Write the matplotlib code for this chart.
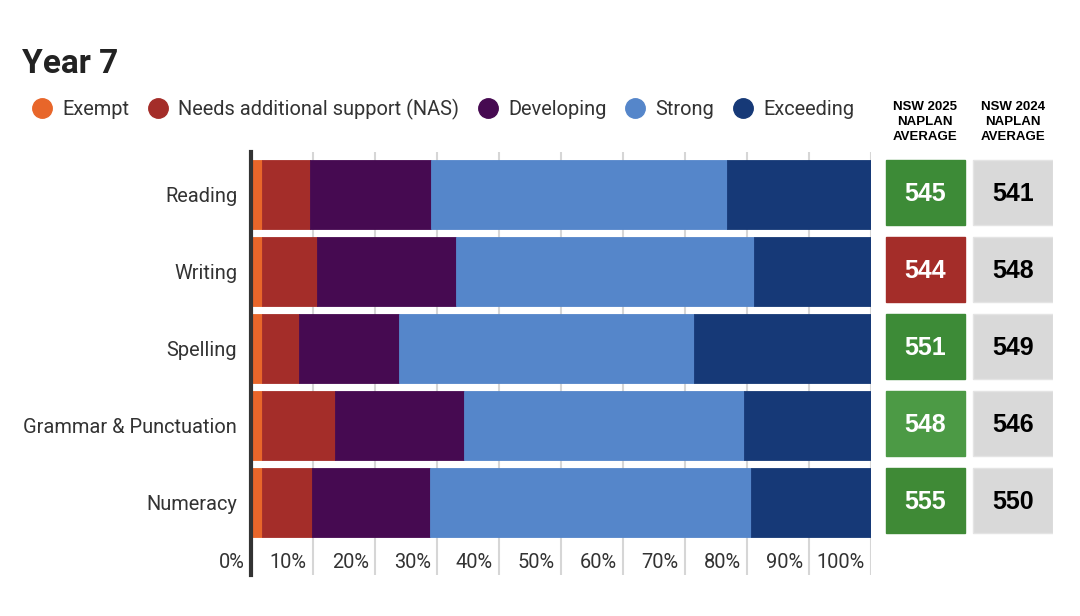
import matplotlib
matplotlib.use("Agg")
import matplotlib.pyplot as plt
from matplotlib.lines import Line2D

# ---------------- data ----------------
categories = ["Reading", "Writing", "Spelling", "Grammar & Punctuation", "Numeracy"]
series_names = ["Exempt", "Needs additional support (NAS)", "Developing", "Strong", "Exceeding"]
exempt = [1.7, 1.7, 1.7, 1.7, 1.7]
nas = [7.8, 9.0, 6.1, 11.8, 8.1]
developing = [19.5, 22.4, 16.0, 20.9, 19.0]
strong = [47.8, 48.1, 47.7, 45.1, 51.8]
exceeding = [23.2, 18.8, 28.5, 20.5, 19.4]
nsw_2025 = [545, 544, 551, 548, 555]
nsw_2024 = [541, 548, 549, 546, 550]
x_ticks = [0, 10, 20, 30, 40, 50, 60, 70, 80, 90, 100]
x_tick_labels = ["0%", "10%", "20%", "30%", "40%", "50%", "60%", "70%", "80%", "90%", "100%"]
header_2025 = "NSW 2025\nNAPLAN\nAVERAGE"
header_2024 = "NSW 2024\nNAPLAN\nAVERAGE"
title = "Year 7"

# ---------------- style ----------------
series_colors = ["#E8662A", "#A42D29", "#460A51", "#5586CA", "#163977"]
box_2025_colors = ["#3D8B37", "#A42D29", "#3D8B37", "#4C9A45", "#3F8A36"]
box_2024_color = "#D9D9D9"
W, H = 1080, 616
fig = plt.figure(figsize=(W / 100, H / 100), dpi=100)
fig.patch.set_facecolor("white")

def fx(px):
    return px / W

def fy(py):
    return 1 - py / H

ax_top, ax_bot = 152, 575
ax = fig.add_axes([fx(251), fy(ax_bot), fx(871) - fx(251), fy(ax_top) - fy(ax_bot)])
ylo, yhi = 4.94, -0.555
ax.set_xlim(0, 100)
ax.set_ylim(ylo, yhi)

series = [exempt, nas, developing, strong, exceeding]
ypos = list(range(len(categories)))
left = [0.0] * len(categories)
for vals, col, name in zip(series, series_colors, series_names):
    ax.barh(ypos, vals, left=left, height=0.9, color=col, edgecolor=col,
            linewidth=0.6, label=name, zorder=3)
    left = [l + v for l, v in zip(left, vals)]

ax.set_yticks(ypos)
ax.set_yticklabels(categories, fontsize=14.4, family="Roboto", color="#333333")
ax.tick_params(axis="y", length=0, pad=10)
ax.set_xticks(x_ticks)
ax.set_xticklabels([])
ax.tick_params(axis="x", length=0)
ax.grid(axis="x", color="#D6D6D6", linewidth=1.5, zorder=0)
ax.set_axisbelow(True)
for s in ["top", "right", "bottom"]:
    ax.spines[s].set_visible(False)
ax.spines["left"].set_color("#333333")
ax.spines["left"].set_linewidth(3)
ax.spines["left"].set_zorder(5)

for v, lab in zip(x_ticks, x_tick_labels):
    ax.text(v - 1.0, 4.78, lab, ha="right", va="center", fontsize=14.4,
            family="Roboto", color="#333333")

# ---------------- right-hand boxes ----------------
ax2 = fig.add_axes([fx(885), fy(ax_bot), fx(1053) - fx(885), fy(ax_top) - fy(ax_bot)])
ax2.set_xlim(885, 1053)
ax2.set_ylim(ylo, yhi)
ax2.axis("off")
box_h = 0.845
for i, (v25, v24) in enumerate(zip(nsw_2025, nsw_2024)):
    c = box_2025_colors[i]
    ax2.barh(i - 0.45, 79.3, left=885.7, height=box_h, align="edge", color=c,
             edgecolor=c, linewidth=1.0)
    ax2.barh(i - 0.45, 79.7, left=973, height=box_h, align="edge",
             color=box_2024_color, edgecolor="#E4E4E4", linewidth=1.0)
    cy = i - 0.45 + box_h / 2 + 0.02
    ax2.text(885.7 + 79.3 / 2, cy, str(v25), ha="center", va="center",
             fontsize=18, fontweight="bold", family="Liberation Sans", color="white")
    ax2.text(973 + 79.7 / 2, cy, str(v24), ha="center", va="center",
             fontsize=18, fontweight="bold", family="Liberation Sans", color="black")

fig.text(fx(925), fy(122), header_2025, ha="center", va="center", fontsize=9.5,
         fontweight="bold", family="Liberation Sans", linespacing=1.28, color="black")
fig.text(fx(1013), fy(122), header_2024, ha="center", va="center", fontsize=9.5,
         fontweight="bold", family="Liberation Sans", linespacing=1.28, color="black")

# ---------------- title & legend ----------------
fig.text(fx(22), fy(64), title, ha="left", va="center", fontsize=24,
         fontweight="bold", family="Roboto", color="#222222")

handles = [Line2D([0], [0], marker="o", linestyle="none", markersize=14,
                  markerfacecolor=c, markeredgecolor=c) for c in series_colors]
fig.legend(handles, series_names, loc="center left",
           bbox_to_anchor=(fx(32), fy(109)), ncol=5, frameon=False,
           prop={"family": "Roboto", "size": 14.4}, labelcolor="#333333",
           handlelength=1.0, handletextpad=0.5, columnspacing=0.95,
           borderpad=0, borderaxespad=0)

fig.savefig("out.png", dpi=100, facecolor="white")
